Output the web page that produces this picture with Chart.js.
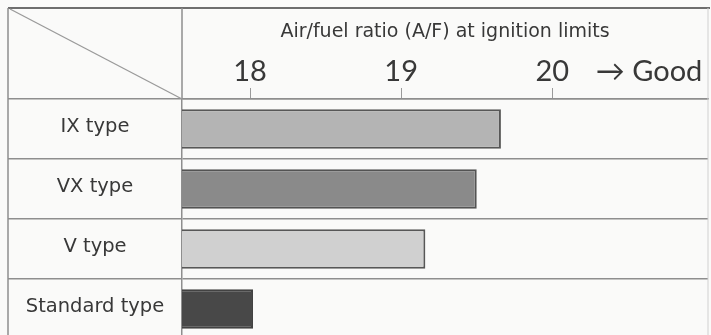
<!DOCTYPE html>
<html>
<head>
<meta charset="utf-8">
<script src="https://cdn.jsdelivr.net/npm/chart.js@4/dist/chart.umd.min.js"></script>
<style>
  html, body { margin: 0; padding: 0; background: #fafaf9; overflow: hidden; }
  canvas { display: block; }
</style>
</head>
<body>
<canvas id="chart" width="711" height="339"></canvas>
<script>
// Engine variants and the air/fuel ratio each one still ignites at
const categories = ['IX type', 'VX type', 'V type', 'Standard type'];
const ignitionLimitAF = [19.66, 19.50, 19.16, 18.02];

// Axis ticks along the top of the table
const tickValues = [18, 19, 20];
const tickLabels = ['18', '19', '20'];
const directionValue = 20.64;
const directionLabel = '\u2192 Good';
const axisTitle = 'Air/fuel ratio (A/F) at ignition limits';

const barFills = ['#b4b4b4', '#8a8a8a', '#d0d0d0', '#484848'];
const barEdges = ['#575757', '#535353', '#575757', '#424242'];

const TEXT_FONT = '"DejaVu Sans", Lato, sans-serif';
const NUM_FONT = 'Lato, "DejaVu Sans", sans-serif';
const LINE = '#8e8e8e';
const INK = '#383838';
const LABEL_FONT = { family: TEXT_FONT, size: 19.5 };
const FRAME = { left: 8, top: 8, right: 3 };
const LABEL_COL = 174;   // width of the left label column
const HEADER_H = 91;     // height of the header row

// centre the row labels inside the label column
const mctx = document.createElement('canvas').getContext('2d');
mctx.font = `${LABEL_FONT.size}px ${TEXT_FONT}`;
const widest = Math.max(...categories.map(c => mctx.measureText(c).width));
const labelPad = -LABEL_COL / 2 - widest / 2;

const tableFrame = {
  id: 'tableFrame',
  beforeDraw(chart) {
    const { ctx, width, height } = chart;
    ctx.save();
    ctx.fillStyle = '#fafaf9';
    ctx.fillRect(0, 0, width, height);
    ctx.restore();
  },
  afterDraw(chart) {
    const { ctx, chartArea } = chart;
    const L = FRAME.left, T = FRAME.top, R = chartArea.right;
    ctx.save();
    ctx.strokeStyle = '#6e6e6e';
    ctx.lineWidth = 2.2;
    ctx.beginPath();
    ctx.moveTo(L, T); ctx.lineTo(R + 2, T);
    ctx.stroke();
    ctx.strokeStyle = LINE;
    ctx.lineWidth = 1.5;
    ctx.beginPath();
    ctx.moveTo(L, T); ctx.lineTo(L, chart.height);
    ctx.moveTo(chartArea.left, T); ctx.lineTo(chartArea.left, chartArea.top);
    ctx.stroke();
    ctx.strokeStyle = '#d0d0d0';
    ctx.lineWidth = 1;
    ctx.beginPath();
    ctx.moveTo(R, T); ctx.lineTo(R, chart.height);
    ctx.stroke();
    // diagonal in the corner cell
    ctx.strokeStyle = '#9a9a9a';
    ctx.lineWidth = 1.3;
    ctx.beginPath();
    ctx.moveTo(L + 2, T + 1); ctx.lineTo(chartArea.left, chartArea.top);
    ctx.stroke();
    ctx.restore();
  }
};

new Chart(document.getElementById('chart'), {
  type: 'bar',
  data: {
    labels: categories,
    datasets: [{
      data: ignitionLimitAF,
      backgroundColor: barFills,
      borderColor: barEdges,
      borderWidth: 2,
      borderSkipped: false,
      categoryPercentage: 1,
      barPercentage: 0.66
    }]
  },
  options: {
    indexAxis: 'y',
    responsive: false,
    animation: false,
    devicePixelRatio: 1,
    layout: { padding: { left: FRAME.left, top: FRAME.top, right: FRAME.right, bottom: 0 } },
    plugins: { legend: { display: false }, tooltip: { enabled: false }, title: { display: false } },
    scales: {
      x: {
        type: 'linear',
        position: 'top',
        min: 17.55,
        max: 21.03,
        afterBuildTicks: (scale) => {
          scale.ticks = tickValues.map(v => ({ value: v })).concat([{ value: directionValue }]);
        },
        afterFit: (scale) => { scale.height = HEADER_H; },
        ticks: {
          autoSkip: false,
          maxRotation: 0,
          padding: 2,
          color: INK,
          font: { family: NUM_FONT, size: 29, lineHeight: 1 },
          callback: (value) => {
            const i = tickValues.indexOf(value);
            return i >= 0 ? tickLabels[i] : directionLabel;
          }
        },
        grid: {
          drawOnChartArea: false,
          drawTicks: true,
          tickLength: 11,
          tickWidth: 1,
          tickColor: (c) => (c.tick && tickValues.includes(c.tick.value)) ? '#9a9a9a' : 'rgba(0,0,0,0)'
        },
        border: { display: true, color: LINE, width: 1.5 },
        title: {
          display: true,
          text: axisTitle,
          color: INK,
          font: { family: TEXT_FONT, size: 19 },
          padding: { top: 13, bottom: 0 }
        }
      },
      y: {
        type: 'category',
        position: 'left',
        afterFit: (scale) => { scale.width = LABEL_COL; },
        ticks: {
          crossAlign: 'center',
          padding: labelPad,
          labelOffset: -2,
          color: INK,
          font: LABEL_FONT
        },
        grid: {
          offset: true,
          color: LINE,
          lineWidth: 1.5,
          drawTicks: true,
          tickLength: LABEL_COL,
          tickColor: LINE,
          tickWidth: 1.5
        },
        border: { display: true, color: LINE, width: 1.5 }
      }
    }
  },
  plugins: [tableFrame]
});
</script>
</body>
</html>
